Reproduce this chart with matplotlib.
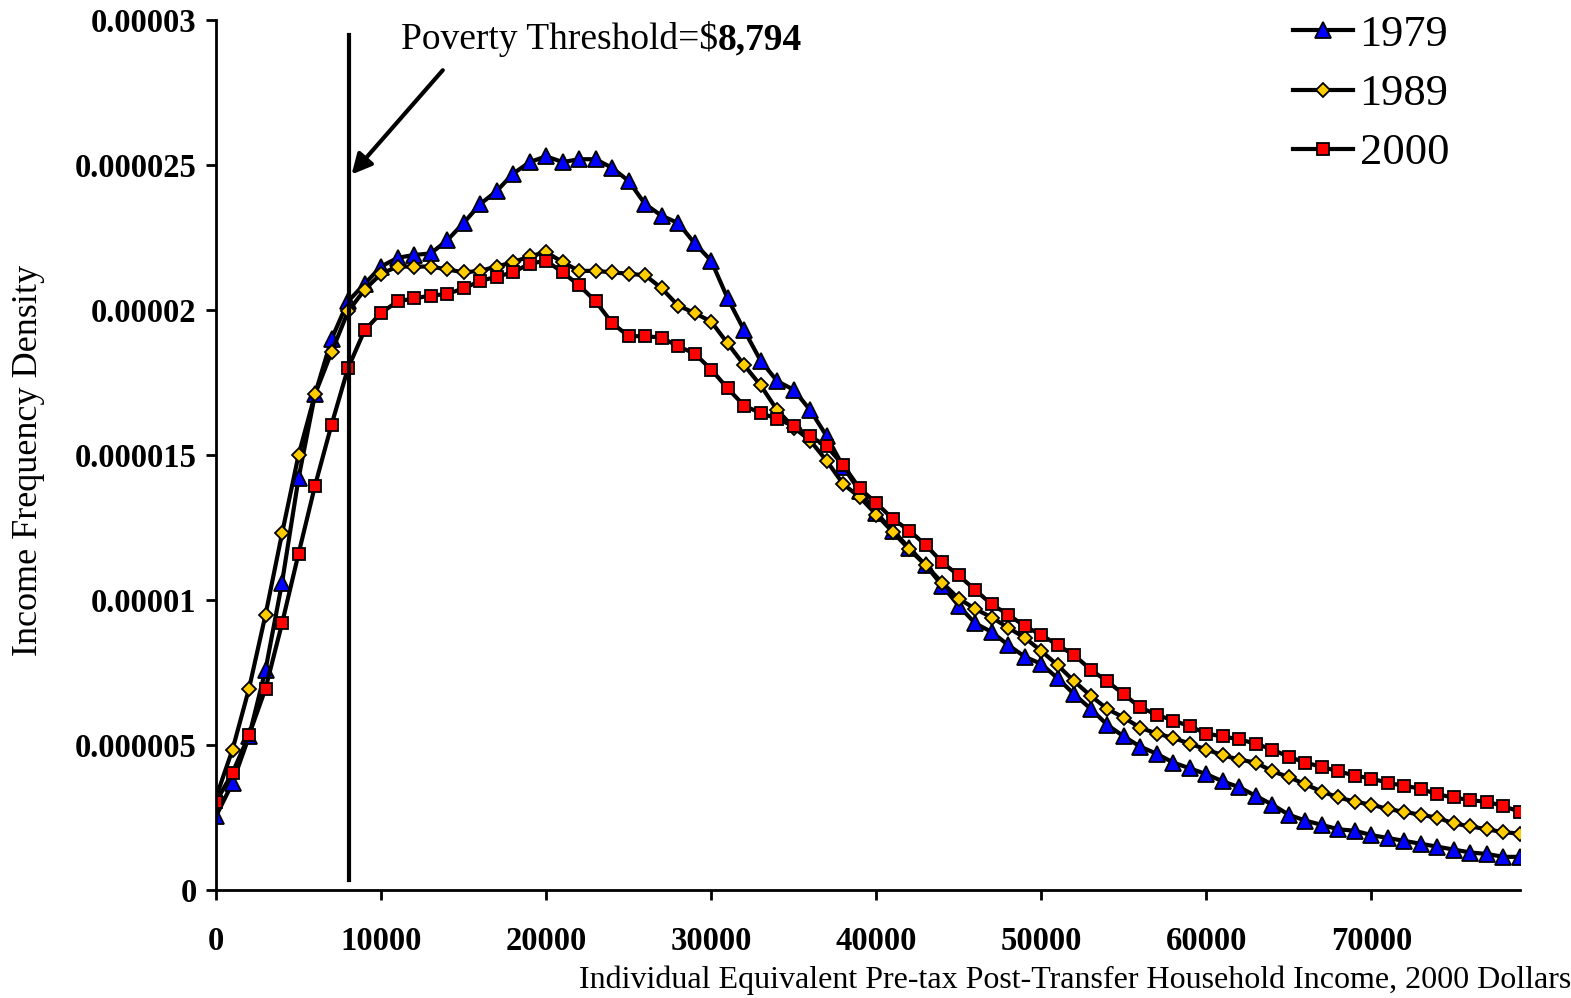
import numpy as np
import matplotlib.pyplot as plt

plt.rcParams['font.family'] = ['Liberation Serif', 'DejaVu Serif']

# income grid, 2000 dollars
income = np.arange(0, 80000, 1000)

# densities, in units of 1e-6
d1979 = [2.55, 3.7, 5.3, 7.6, 10.6, 14.2, 17.1, 19.0, 20.3, 20.9,
         21.5, 21.8, 21.9, 21.95, 22.4, 23.0, 23.65, 24.1, 24.7, 25.1,
         25.3, 25.1, 25.2, 25.2, 24.9, 24.45, 23.65, 23.25, 23.0, 22.3,
         21.7, 20.4, 19.3, 18.25, 17.55, 17.25, 16.55, 15.65, 14.6, 13.75,
         13.0, 12.4, 11.8, 11.2, 10.5, 9.8, 9.2, 8.9, 8.45, 8.05,
         7.8, 7.3, 6.75, 6.25, 5.7, 5.3, 4.95, 4.7, 4.4, 4.2,
         4.0, 3.75, 3.55, 3.25, 2.95, 2.6, 2.4, 2.25, 2.1, 2.05,
         1.9, 1.8, 1.7, 1.6, 1.5, 1.4, 1.3, 1.25, 1.15, 1.15]
d1989 = [3.2, 4.85, 6.95, 9.5, 12.3, 15.0, 17.1, 18.55, 19.95, 20.7,
         21.25, 21.5, 21.5, 21.5, 21.4, 21.3, 21.35, 21.5, 21.65, 21.85,
         22.0, 21.65, 21.35, 21.35, 21.3, 21.25, 21.2, 20.75, 20.15, 19.9,
         19.6, 18.85, 18.1, 17.4, 16.55, 15.95, 15.5, 14.8, 14.0, 13.55,
         12.95, 12.35, 11.75, 11.2, 10.6, 10.05, 9.7, 9.4, 9.05, 8.7,
         8.25, 7.75, 7.2, 6.7, 6.25, 5.95, 5.6, 5.4, 5.25, 5.05,
         4.85, 4.65, 4.5, 4.4, 4.1, 3.9, 3.65, 3.4, 3.2, 3.05,
         2.95, 2.8, 2.7, 2.6, 2.5, 2.3, 2.2, 2.1, 2.0, 1.95]
d2000 = [3.05, 4.05, 5.35, 6.95, 9.2, 11.6, 13.95, 16.05, 18.0, 19.3,
         19.9, 20.3, 20.4, 20.5, 20.55, 20.75, 21.0, 21.15, 21.3, 21.6,
         21.7, 21.3, 20.85, 20.3, 19.55, 19.1, 19.1, 19.05, 18.75, 18.5,
         17.95, 17.3, 16.7, 16.45, 16.25, 16.0, 15.65, 15.3, 14.65, 13.85,
         13.35, 12.8, 12.4, 11.9, 11.3, 10.85, 10.35, 9.85, 9.5, 9.1,
         8.8, 8.45, 8.1, 7.6, 7.2, 6.75, 6.3, 6.05, 5.85, 5.65,
         5.4, 5.3, 5.2, 5.05, 4.85, 4.6, 4.4, 4.25, 4.1, 3.95,
         3.85, 3.7, 3.6, 3.5, 3.3, 3.2, 3.1, 3.05, 2.9, 2.7]

yticks = [0, 0.000005, 0.00001, 0.000015, 0.00002, 0.000025, 0.00003]
ytick_labels = ['0', '0.000005', '0.00001', '0.000015', '0.00002', '0.000025', '0.00003']
xticks = [0, 10000, 20000, 30000, 40000, 50000, 60000, 70000]
poverty_line = 8050

fig = plt.figure(figsize=(15.71, 9.98), dpi=100)
ax = fig.add_axes([0.1375, 0.108, 0.83, 0.872])

series = [
    ('1979', d1979, '^', '#0000FF', 11),
    ('1989', d1989, 'D', '#FFCC00', 7.5),
    ('2000', d2000, 's', '#FF0000', 8.5),
]
for label, vals, mk, col, ms in series:
    ax.plot(income, np.array(vals) * 1e-6, color='black', lw=3,
            marker=mk, markersize=ms, markerfacecolor=col,
            markeredgecolor='black', markeredgewidth=1.3, label=label)

# poverty threshold marker
ax.plot([poverty_line, poverty_line], [0.00000034, 0.00002948], color='black', lw=3)
ax.annotate('', xy=(poverty_line + 50, 0.0000246), xytext=(13850, 0.00002834),
            arrowprops=dict(arrowstyle='-|>', color='black', lw=3,
                            mutation_scale=30))
t1 = ax.text(11200, 0.00002934, 'Poverty Threshold=$', fontsize=27, va='center')
ax.annotate('8,794', xy=(1, 0), xycoords=t1, va='bottom', ha='left',
            fontsize=27, fontweight='bold')

ax.set_xlim(0, 79000)
ax.set_ylim(0, 0.00003)
ax.set_xticks(xticks)
ax.set_xticklabels([str(t) for t in xticks], fontsize=23.5, fontweight='bold')
ax.set_yticks(yticks)
ax.set_yticklabels(ytick_labels, fontsize=23.5, fontweight='bold')
ax.tick_params(axis='both', direction='out', length=7, width=2)
ax.tick_params(axis='y', pad=7)
ax.tick_params(axis='x', pad=19)
for s in ['top', 'right']:
    ax.spines[s].set_visible(False)
for s in ['left', 'bottom']:
    ax.spines[s].set_linewidth(2)

ax.set_ylabel('Income Frequency Density', fontsize=26)
ax.yaxis.set_label_coords(-0.131, 0.494)
ax.set_xlabel('Individual Equivalent Pre-tax Post-Transfer Household Income, 2000 Dollars',
              fontsize=23)
ax.xaxis.label.set_horizontalalignment('right')
ax.xaxis.set_label_coords(1.0395, -0.086)

ax.legend(loc='upper left', bbox_to_anchor=(0.8259, 1.006), frameon=False,
          fontsize=32, handlelength=1.35, handletextpad=0.15, labelspacing=0.43,
          borderpad=0, borderaxespad=0)

fig.savefig('out.png', dpi=100)
